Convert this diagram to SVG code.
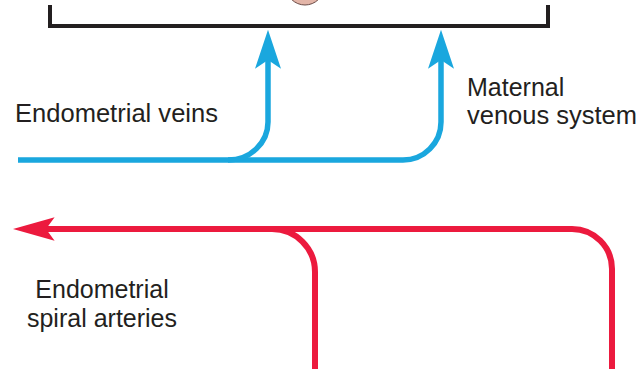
<svg xmlns="http://www.w3.org/2000/svg" width="644" height="369" viewBox="0 0 644 369">
<style>
  .lbl{font-family:"Liberation Sans",Arial,sans-serif;font-size:25px;fill:#231f20}
  .vein{fill:none;stroke:#1aa7de;stroke-width:5.5}
  .artery{fill:none;stroke:#ec1a3e;stroke-width:6}
  .frame{fill:none;stroke:#231f20;stroke-width:4}
</style>
<defs>
  <marker id="ab" markerUnits="userSpaceOnUse" markerWidth="40" markerHeight="26" viewBox="0 0 36 24" refX="8" refY="12" orient="auto">
    <path d="M36,12 L0,0 L8,12 L0,24 Z" fill="#1aa7de"/>
  </marker>
  <marker id="ar" markerUnits="userSpaceOnUse" markerWidth="42" markerHeight="26" viewBox="0 0 39 24" refX="8" refY="12" orient="auto">
    <path d="M39,12 L0,1 L8,12 L0,23 Z" fill="#ec1a3e"/>
  </marker>
</defs>
<g id="placenta">
  <circle cx="305" cy="-14" r="19" fill="#e3b5a8" stroke="#6b4a45" stroke-width="1"/>
  <path class="frame" d="M50,5 V26 H548 V5"/>
</g>
<g id="connectors">
  <path class="vein" d="M18,160 H403 A38,38 0 0 0 441,122 V60" marker-end="url(#ab)"/>
  <path class="vein" d="M228,160 A40,38 0 0 0 268,122 V60" marker-end="url(#ab)"/>
  <path class="artery" d="M612,369 V269 A40,40 0 0 0 572,229 H46" marker-end="url(#ar)"/>
  <path class="artery" d="M315,369 V272 A43,43 0 0 0 272,229 H260"/>
</g>
<g id="label-veins">
  <text class="lbl" x="15" y="122" textLength="203" lengthAdjust="spacingAndGlyphs">Endometrial veins</text>
</g>
<g id="label-maternal">
  <text class="lbl" x="467" y="96">Maternal</text>
  <text class="lbl" x="467" y="124" textLength="170" lengthAdjust="spacingAndGlyphs">venous system</text>
</g>
<g id="label-arteries">
  <text class="lbl" x="102" y="298" text-anchor="middle">Endometrial</text>
  <text class="lbl" x="102" y="327" text-anchor="middle">spiral arteries</text>
</g>
</svg>
